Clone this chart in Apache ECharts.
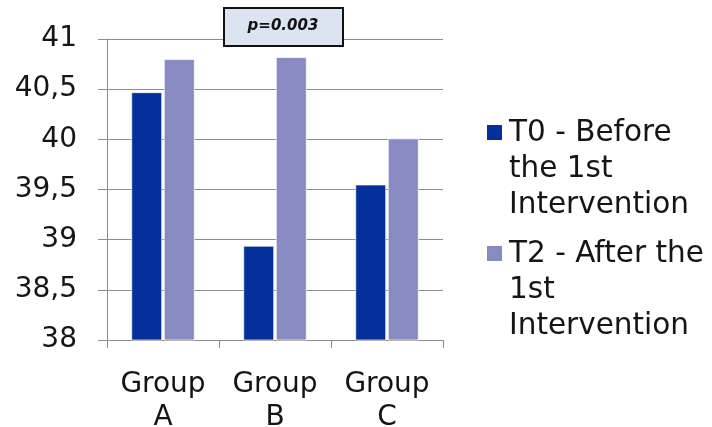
<!DOCTYPE html>
<html>
<head>
<meta charset="utf-8">
<script src="https://cdn.jsdelivr.net/npm/echarts@6/dist/echarts.min.js"></script>
<style>
  html, body { margin: 0; padding: 0; background: #fff; overflow: hidden; }
  #chart { width: 712px; height: 427px; }
</style>
</head>
<body>
<div id="chart"></div>
<script>
// Group means before and after the first intervention
const categories = ['Group\nA', 'Group\nB', 'Group\nC'];
const seriesNames = ['T0 - Before the 1st Intervention', 'T2 - After the 1st Intervention'];
const legendLines = [['T0 - Before', 'the 1st', 'Intervention'], ['T2 - After the', '1st', 'Intervention']];
const t0Values = [40.47, 38.94, 39.55];
const t2Values = [40.80, 40.82, 40.01];
const pValueText = 'p=0.003';
const seriesColors = ['#03309A', '#878BC1'];

const FONT = 'DejaVu Sans, Verdana, sans-serif';
const chart = echarts.init(document.getElementById('chart'));

// Legend drawn as text blocks so the marker sits beside the first line
const legendGraphics = [];
const legendTops = [115, 236];
legendLines.forEach((lines, i) => {
  legendGraphics.push({
    type: 'rect', left: 487, top: legendTops[i] + 10,
    shape: { width: 15, height: 15 },
    style: { fill: seriesColors[i] }
  });
  legendGraphics.push({
    type: 'text', left: 509, top: legendTops[i],
    style: {
      text: lines.join('\n'), font: '29.5px ' + FONT, fill: '#151515',
      lineHeight: 36
    }
  });
});

chart.setOption({
  animation: false,
  grid: { left: 107, right: 269, top: 39, bottom: 87, outerBoundsMode: 'none', containLabel: false },
  legend: { show: false, data: seriesNames },
  xAxis: {
    type: 'category',
    data: categories,
    axisLine: { lineStyle: { color: '#8c8c8c', width: 1 } },
    axisTick: { show: true, length: 8, lineStyle: { color: '#8c8c8c' } },
    axisLabel: {
      color: '#151515', fontFamily: FONT, fontSize: 28, lineHeight: 33, margin: 28
    }
  },
  yAxis: {
    type: 'value', min: 38, max: 41, interval: 0.5,
    axisLine: { show: true, lineStyle: { color: '#8c8c8c', width: 1 } },
    axisTick: { show: true, length: 9, lineStyle: { color: '#8c8c8c' } },
    splitLine: { lineStyle: { color: '#8c8c8c', width: 1 } },
    axisLabel: {
      color: '#151515', fontFamily: FONT, fontSize: 28, margin: 30,
      formatter: v => String(v).replace('.', ',')
    }
  },
  series: [
    {
      name: seriesNames[0], type: 'bar', data: t0Values,
      barWidth: 31, barGap: '5%',
      itemStyle: { color: seriesColors[0], borderColor: 'rgba(255,255,255,0.7)', borderWidth: 1 }
    },
    {
      name: seriesNames[1], type: 'bar', data: t2Values,
      barWidth: 31, barGap: '5%',
      itemStyle: { color: seriesColors[1], borderColor: 'rgba(255,255,255,0.7)', borderWidth: 1 }
    }
  ],
  graphic: legendGraphics.concat([
    {
      type: 'rect', left: 223, top: 7, z: 100,
      shape: { width: 119, height: 38 },
      style: { fill: '#DBE5F1', stroke: '#111', lineWidth: 2 }
    },
    {
      type: 'text', x: 283, y: 26, z: 101,
      style: {
        text: pValueText, font: 'italic bold 15px ' + FONT, fill: '#111',
        textAlign: 'center', textVerticalAlign: 'middle'
      }
    }
  ])
});
</script>
</body>
</html>
